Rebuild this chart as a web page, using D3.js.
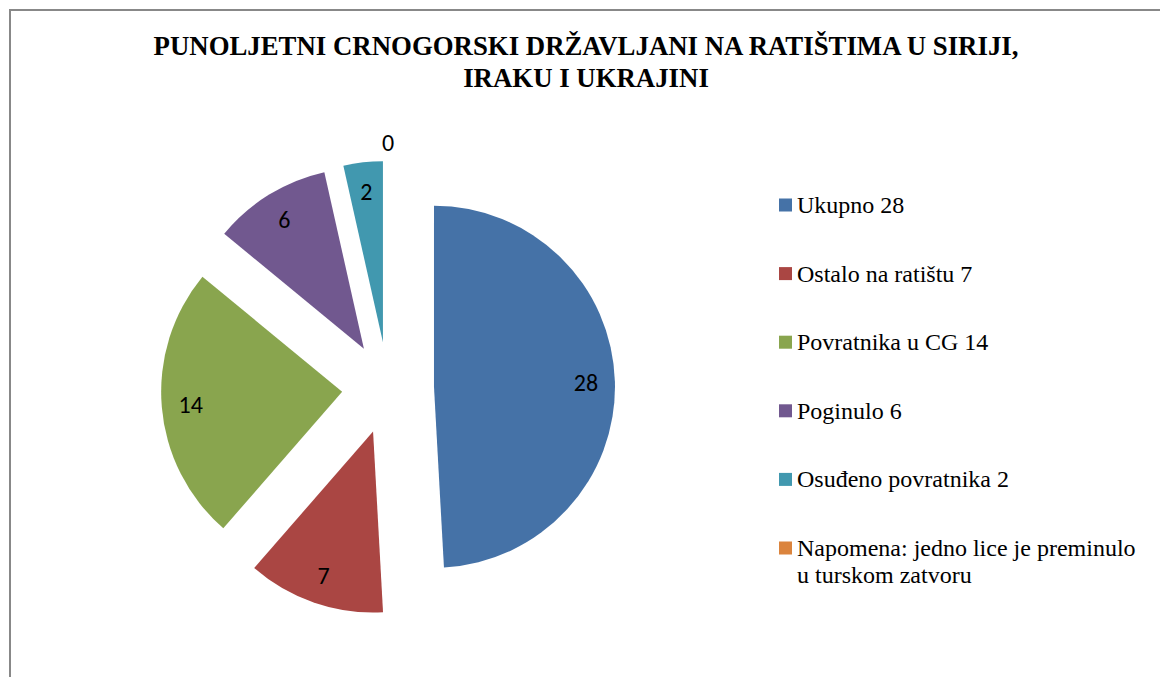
<!DOCTYPE html>
<html>
<head>
<meta charset="utf-8">
<script src="https://cdn.jsdelivr.net/npm/d3@7"></script>
<style>
  body { margin: 0; background: #fff; }
  svg { display: block; }
</style>
</head>
<body>
<svg id="chart" width="1160" height="677"></svg>
<script>
// **** Data
const categories = ["Ukupno", "Ostalo na ratištu", "Povratnika u CG", "Poginulo", "Osuđeno povratnika", "Napomena"];
const values = [28, 7, 14, 6, 2, 0];
const legendLabels = [
  ["Ukupno 28"],
  ["Ostalo na ratištu 7"],
  ["Povratnika u CG 14"],
  ["Poginulo 6"],
  ["Osuđeno povratnika 2"],
  ["Napomena: jedno lice je preminulo", "u turskom zatvoru"]
];
const colors = ["#4572A7", "#AA4643", "#89A54E", "#71588F", "#4198AF", "#DB843D"];
const titleLines = ["PUNOLJETNI CRNOGORSKI DRŽAVLJANI NA RATIŠTIMA U SIRIJI,", "IRAKU I UKRAJINI"];

function draw() {
  const svg = d3.select("#chart");
  const width = 1160;
  const height = 677;

  // ***** Border of the chart area (runs off the right and bottom)
  svg.append("rect")
    .attr("x", 10).attr("y", 10)
    .attr("width", width + 20).attr("height", height + 20)
    .attr("fill", "#fff")
    .attr("stroke", "#888")
    .attr("stroke-width", 2);

  // ***** Title
  svg.append("g")
    .selectAll("text")
    .data(titleLines)
    .join("text")
    .attr("x", 586)
    .attr("y", (d, i) => 55 + i * 32)
    .attr("text-anchor", "middle")
    .style("font-family", "'Liberation Serif', 'Times New Roman', serif")
    .style("font-weight", "bold")
    .style("font-size", "26.8px")
    .text(d => d);

  // ***** Pie
  const cx = 388, cy = 388;
  const radius = 181;
  const explode = 46;

  const pie = d3.pie().sort(null).value(d => d)
    .startAngle(0).endAngle(2 * Math.PI);
  const arcs = pie(values);
  const arc = d3.arc().innerRadius(0).outerRadius(radius);

  const midDir = d => {
    const a = (d.startAngle + d.endAngle) / 2;
    return [Math.sin(a), -Math.cos(a)];
  };

  const pieG = svg.append("g").attr("transform", `translate(${cx},${cy})`);

  const slices = pieG.selectAll("g.slice")
    .data(arcs)
    .join("g")
    .attr("class", "slice")
    .attr("transform", d => {
      const [dx, dy] = midDir(d);
      return `translate(${dx * explode},${dy * explode})`;
    });

  slices.append("path")
    .attr("d", arc)
    .attr("fill", (d, i) => colors[i]);

  // Labels: inside end, zero slice just outside the rim
  const labelR = d => d.value === 0 ? radius + 19 : radius * 0.84;
  slices.append("text")
    .attr("x", d => midDir(d)[0] * labelR(d))
    .attr("y", d => midDir(d)[1] * labelR(d))
    .attr("text-anchor", "middle")
    .attr("dominant-baseline", "central")
    .style("font-family", "Carlito, Lato, 'Open Sans', sans-serif")
    .style("font-size", "24px")
    .style("fill", "#000")
    .text(d => d.value);

  // ***** Legend
  const legend = svg.append("g").attr("transform", "translate(779,0)");
  const rowY = d3.scaleLinear().domain([0, 5]).range([205, 548]);

  const items = legend.selectAll("g")
    .data(categories)
    .join("g")
    .attr("transform", (d, i) => `translate(0,${rowY(i)})`);

  items.append("rect")
    .attr("x", 0).attr("y", -6.5)
    .attr("width", 13).attr("height", 13)
    .attr("fill", (d, i) => colors[i]);

  items.append("text")
    .attr("x", 18)
    .attr("y", 8)
    .style("font-family", "'Liberation Serif', 'Times New Roman', serif")
    .style("font-size", "24px")
    .style("fill", "#000")
    .selectAll("tspan")
    .data((d, i) => legendLabels[i])
    .join("tspan")
    .attr("x", 18)
    .attr("dy", (d, i) => i === 0 ? 0 : 27)
    .text(d => d);
}
draw();
</script>
</body>
</html>
